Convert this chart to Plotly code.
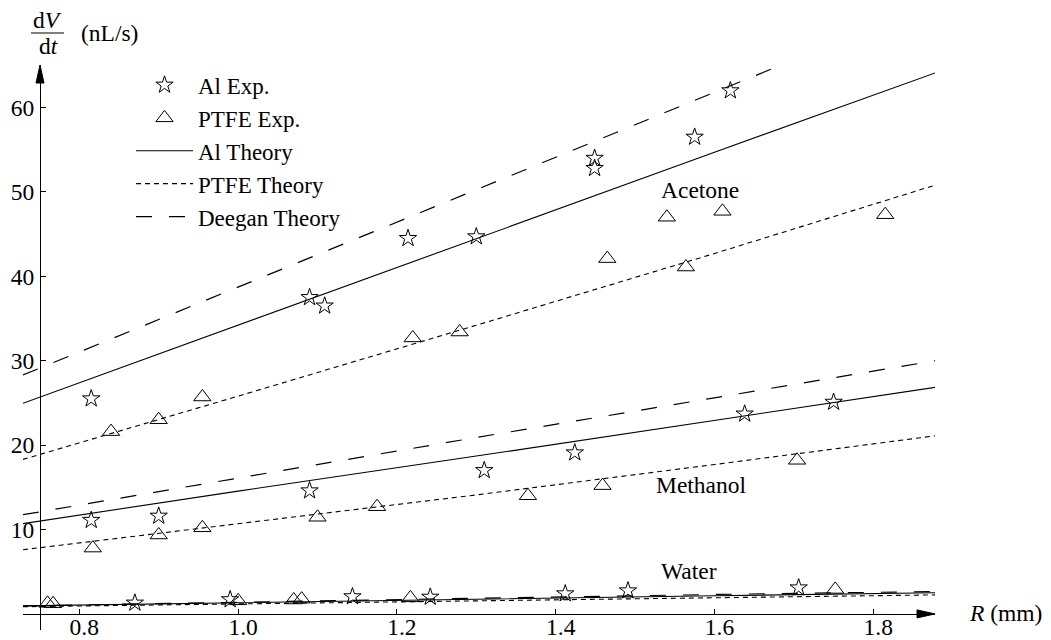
import plotly.graph_objects as go

# ---------------- data ----------------
acetone_al_x = [0.815, 1.090, 1.109, 1.214, 1.300, 1.449, 1.449, 1.575, 1.620]
acetone_al_y = [25.5, 37.5, 36.5, 44.5, 44.7, 54.0, 52.8, 56.5, 62.0]
acetone_ptfe_x = [0.840, 0.900, 0.955, 1.220, 1.279, 1.465, 1.540, 1.564, 1.610, 1.815]
acetone_ptfe_y = [21.6, 23.0, 25.7, 32.7, 33.4, 42.1, 47.0, 41.1, 47.7, 47.3]

methanol_al_x = [0.815, 0.900, 1.090, 1.310, 1.424, 1.638, 1.750]
methanol_al_y = [11.1, 11.6, 14.6, 17.0, 19.1, 23.7, 25.1]
methanol_ptfe_x = [0.817, 0.900, 0.955, 1.100, 1.175, 1.365, 1.459, 1.704]
methanol_ptfe_y = [7.8, 9.35, 10.2, 11.45, 12.7, 14.0, 15.2, 18.2]

water_al_x = [0.870, 0.990, 1.144, 1.242, 1.412, 1.491, 1.706]
water_al_y = [1.3, 1.7, 2.05, 2.0, 2.4, 2.75, 3.1]
water_ptfe_x = [0.760, 0.767, 1.000, 1.070, 1.080, 1.217, 1.752]
water_ptfe_y = [1.25, 1.2, 1.55, 1.65, 1.75, 1.9, 2.9]

theory_x = [0.729, 1.0, 1.3, 1.6, 1.878]
acetone_al_theory = [24.95, 34.2, 44.5, 54.7, 64.1]
acetone_ptfe_theory = [18.3, 25.8, 34.2, 42.7, 50.8]
acetone_deegan = [28.3, 38.7, 50.2, 61.8, 72.5]
methanol_al_theory = [10.7, 14.55, 18.7, 22.95, 26.85]
methanol_ptfe_theory = [7.6, 10.65, 14.1, 17.7, 21.1]
methanol_deegan = [11.75, 16.1, 20.9, 25.6, 30.0]
water_al_theory = [0.95, 1.35, 1.75, 2.15, 2.5]
water_ptfe_theory = [0.85, 1.2, 1.55, 1.9, 2.25]
water_deegan = [0.95, 1.4, 1.85, 2.3, 2.65]

x_ticks = [0.8, 1.0, 1.2, 1.4, 1.6, 1.8]
x_ticklabels = ["0.8", "1.0", "1.2", "1.4", "1.6", "1.8"]
y_ticks = [10, 20, 30, 40, 50, 60]
y_ticklabels = ["10", "20", "30", "40", "50", "60"]

labels = ["Acetone", "Methanol", "Water"]
label_x = [1.5817, 1.584, 1.5677]
label_y = [50.2, 15.3, 5.1]

# ---------------- figure ----------------
FONT = "'Liberation Serif', 'Times New Roman', serif"
FS = 23.5
LFS = 23
X_RANGE = [0.72909, 1.87771]
Y_RANGE = [-1.908, 65.036]
X_AXIS_AT = 0.7505
W, H = 1051, 640
L, R, T, B = 23, 116, 65, 10

fig = go.Figure()

star = dict(symbol="star-open", size=13, color="black", line=dict(color="black", width=1))
tri = dict(symbol="triangle-up-open", size=15, color="black", line=dict(color="black", width=1))
solid = dict(color="black", width=1.1)
short = dict(color="black", width=1.1, dash="5px,4px")
longd = dict(color="black", width=1.2, dash="16px,17px")

groups = [
    (acetone_al_x, acetone_al_y, acetone_ptfe_x, acetone_ptfe_y,
     acetone_al_theory, acetone_ptfe_theory, acetone_deegan),
    (methanol_al_x, methanol_al_y, methanol_ptfe_x, methanol_ptfe_y,
     methanol_al_theory, methanol_ptfe_theory, methanol_deegan),
    (water_al_x, water_al_y, water_ptfe_x, water_ptfe_y,
     water_al_theory, water_ptfe_theory, water_deegan),
]

for i, (ax_, ay_, px_, py_, at, pt, dt) in enumerate(groups):
    first = i == 0
    fig.add_trace(go.Scatter(x=theory_x, y=at, mode="lines", line=solid,
                             name="Al Theory", legendrank=3, showlegend=first, hoverinfo="skip"))
    fig.add_trace(go.Scatter(x=theory_x, y=pt, mode="lines", line=short,
                             name="PTFE Theory", legendrank=4, showlegend=first, hoverinfo="skip"))
    fig.add_trace(go.Scatter(x=theory_x, y=dt, mode="lines", line=longd,
                             name="Deegan Theory", legendrank=5, showlegend=first, hoverinfo="skip"))
    fig.add_trace(go.Scatter(x=ax_, y=ay_, mode="markers", marker=star,
                             name="Al Exp.", legendrank=1, showlegend=first))
    fig.add_trace(go.Scatter(x=px_, y=py_, mode="markers", marker=tri,
                             name="PTFE Exp.", legendrank=2, showlegend=first))

# arrowheads on axis ends
fig.add_shape(type="path", xref="x", yref="y", xsizemode="pixel", ysizemode="pixel",
              xanchor=X_RANGE[1], yanchor=0, path="M -18 -4 L 0 0 L -18 4 Z",
              fillcolor="black", line=dict(color="black", width=1))
fig.add_shape(type="path", xref="x", yref="y", xsizemode="pixel", ysizemode="pixel",
              xanchor=X_AXIS_AT, yanchor=Y_RANGE[1], path="M -4 -18 L 0 0 L 4 -18 Z",
              fillcolor="black", line=dict(color="black", width=1))

for t, lx, ly in zip(labels, label_x, label_y):
    fig.add_annotation(x=lx, y=ly, xref="x", yref="y", text=t, showarrow=False,
                       xanchor="center", yanchor="middle",
                       font=dict(family=FONT, size=FS, color="black"))

pw, ph = W - L - R, H - T - B
def px2paper(px, py):
    return (px - L) / pw, (H - B - py) / ph

# axis titles
ax_, ay_ = px2paper(1005, 613)
fig.add_annotation(x=ax_, y=ay_, xref="paper", yref="paper", text="<i>R</i> (mm)",
                   showarrow=False, xanchor="center", yanchor="middle",
                   font=dict(family=FONT, size=FS, color="black"))
for txt, cx, cy in [("d<i>V</i>", 47.5, 20), ("d<i>t</i>", 48, 46), ("(nL/s)", 109, 33)]:
    qx, qy = px2paper(cx, cy)
    fig.add_annotation(x=qx, y=qy, xref="paper", yref="paper", text=txt, showarrow=False,
                       xanchor="center", yanchor="middle",
                       font=dict(family=FONT, size=FS, color="black"))
b0x, b0y = px2paper(31, 33)
b1x, _ = px2paper(64, 33)
fig.add_shape(type="line", xref="paper", yref="paper", x0=b0x, x1=b1x, y0=b0y, y1=b0y,
              line=dict(color="black", width=1.2))

fig.update_layout(
    width=W, height=H,
    margin=dict(l=L, r=R, t=T, b=B, autoexpand=False),
    paper_bgcolor="white", plot_bgcolor="white",
    font=dict(family=FONT, size=FS, color="black"),
    showlegend=True,
    legend=dict(x=(131 - L) / pw, y=1.0 + 1.5 / ph, xanchor="left", yanchor="top",
                bgcolor="rgba(0,0,0,0)", borderwidth=0, itemwidth=57,
                font=dict(family=FONT, size=LFS, color="black")),
    xaxis=dict(range=X_RANGE, anchor="free", position=(0 - Y_RANGE[0]) / (Y_RANGE[1] - Y_RANGE[0]),
               automargin=False,
               showline=True, linecolor="black", linewidth=1.2,
               ticks="inside", ticklen=5, tickwidth=1, tickcolor="black",
               tickvals=x_ticks, ticktext=x_ticklabels, showgrid=False, zeroline=False,
               ticklabelshift=5, ticklabelstandoff=-8,
               tickfont=dict(family=FONT, size=FS, color="black")),
    yaxis=dict(range=Y_RANGE, anchor="free", position=(X_AXIS_AT - X_RANGE[0]) / (X_RANGE[1] - X_RANGE[0]),
               automargin=False,
               showline=True, linecolor="black", linewidth=1.2,
               ticks="inside", ticklen=5, tickwidth=1, tickcolor="black",
               tickvals=y_ticks, ticktext=y_ticklabels, showgrid=False, zeroline=False,
               ticklabelstandoff=1,
               tickfont=dict(family=FONT, size=FS, color="black")),
)

fig.write_html(
    "out.html",
    config={"displayModeBar": False},
    post_script="document.body.style.margin='0px';document.body.style.overflow='hidden';",
)
